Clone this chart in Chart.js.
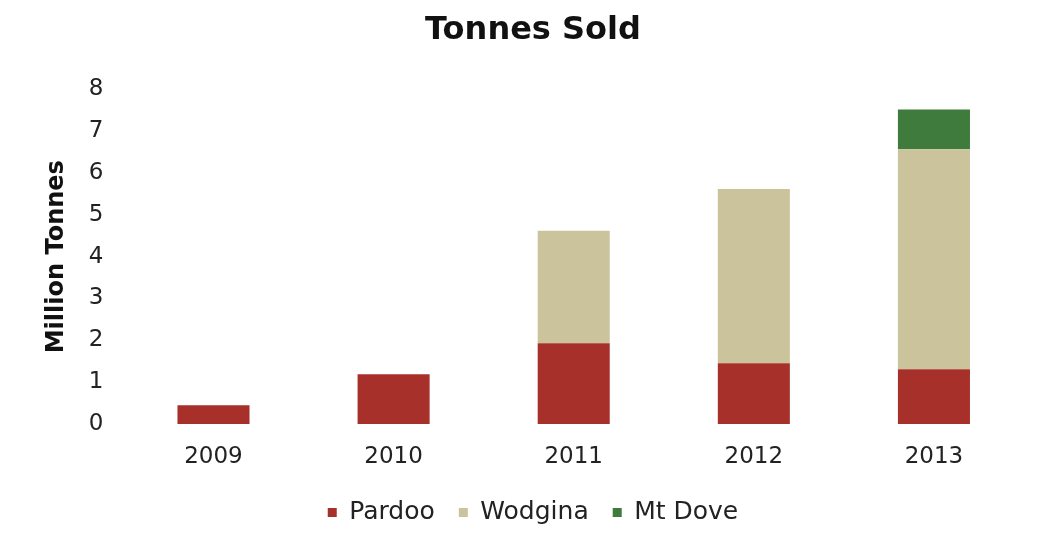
<!DOCTYPE html>
<html>
<head>
<meta charset="utf-8">
<script src="https://cdn.jsdelivr.net/npm/chart.js@4/dist/chart.umd.min.js"></script>
<style>
    html, body { margin: 0; padding: 0; background: #fff; }
    #wrap { width: 1043px; height: 542px; position: relative; }
</style>
</head>
<body>
<div id="wrap"><canvas id="myChart"></canvas></div>
<script>
// tonnes sold per year, million tonnes
const years = ['2009', '2010', '2011', '2012', '2013'];
const pardoo = [0.45, 1.19, 1.93, 1.45, 1.31];
const wodgina = [0, 0, 2.69, 4.17, 5.26];
const mtDove = [0, 0, 0, 0, 0.95];
const yTicks = [0, 1, 2, 3, 4, 5, 6, 7, 8];

const fontFamily = '"DejaVu Sans", Verdana, sans-serif';

let ctx = document.getElementById('myChart');

new Chart(ctx, {
    type: 'bar',
    data: {
        labels: years,
        datasets: [
            {label: 'Pardoo', data: pardoo, backgroundColor: '#a8302a'},
            {label: 'Wodgina', data: wodgina, backgroundColor: '#cac39c'},
            {label: 'Mt Dove', data: mtDove, backgroundColor: '#3f7b3c'}
        ]
    },
    options: {
        responsive: true,
        maintainAspectRatio: false,
        animation: false,
        layout: {
            padding: {left: 42, right: 19, top: 0, bottom: 7}
        },
        datasets: {
            bar: {
                categoryPercentage: 1.0,
                barPercentage: 0.4,
                borderWidth: 0
            }
        },
        plugins: {
            title: {
                display: true,
                text: 'Tonnes Sold',
                color: '#111',
                font: {family: fontFamily, size: 32, weight: 'bold'},
                padding: {top: 11, bottom: 40}
            },
            legend: {
                position: 'bottom',
                labels: {
                    color: '#222',
                    font: {family: fontFamily, size: 25},
                    boxWidth: 9,
                    boxHeight: 9,
                    padding: 24
                }
            },
            tooltip: {enabled: false}
        },
        scales: {
            x: {
                stacked: true,
                grid: {display: false},
                border: {display: false},
                ticks: {
                    color: '#222',
                    font: {family: fontFamily, size: 23},
                    padding: 11
                },
                afterFit: function(axis){
                    // keep the legend tucked up under the year labels
                    axis.height = 52;
                }
            },
            y: {
                stacked: true,
                min: 0,
                max: 8,
                afterBuildTicks: function(axis){
                    axis.ticks = yTicks.map(function(v){ return {value: v}; });
                },
                grid: {display: false},
                border: {display: false},
                title: {
                    display: true,
                    text: 'Million Tonnes',
                    color: '#111',
                    font: {family: fontFamily, size: 24, weight: 'bold'},
                    padding: {top: 0, bottom: 6}
                },
                ticks: {
                    color: '#222',
                    font: {family: fontFamily, size: 23},
                    padding: 12
                }
            }
        }
    }
});
</script>
</body>
</html>
